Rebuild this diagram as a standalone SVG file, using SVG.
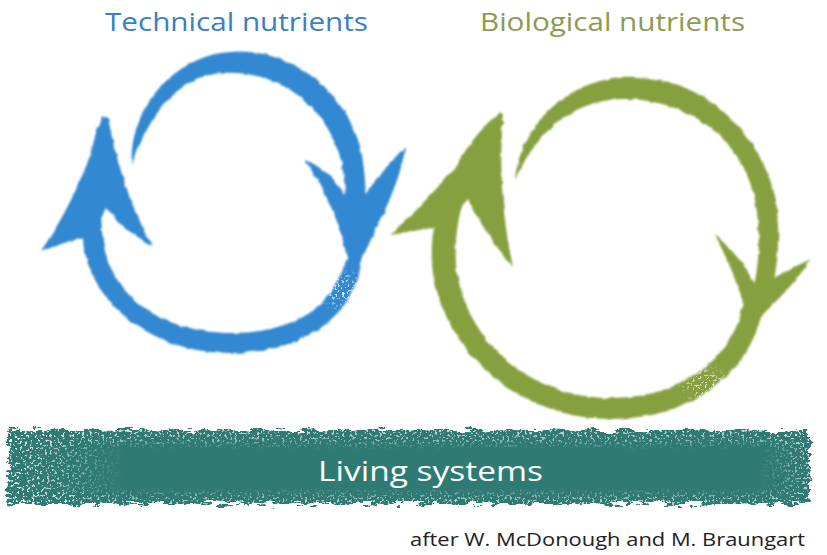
<svg xmlns="http://www.w3.org/2000/svg" width="827" height="555" viewBox="0 0 827 555">
<style>
.title{font-family:"Open Sans","Liberation Sans",sans-serif;font-size:26px}
.blue{fill:#3288d1}
.green{fill:#87a03f}
.band{fill:#2f7a73}
.label{font-family:"Open Sans","Liberation Sans",sans-serif;font-size:27px;fill:#ffffff}
.credit{font-family:"Open Sans","Liberation Sans",sans-serif;font-size:18px;fill:#222222}
</style>
<defs>
<filter id="rough" x="-10%" y="-10%" width="120%" height="120%" color-interpolation-filters="sRGB">
<feTurbulence type="fractalNoise" baseFrequency="0.12" numOctaves="2" seed="2" result="n"/>
<feDisplacementMap in="SourceGraphic" in2="n" scale="3.5" xChannelSelector="R" yChannelSelector="G" result="d"/>
<feGaussianBlur in="d" stdDeviation="0.8"/>
</filter>
<filter id="ragged" x="-3%" y="-20%" width="106%" height="140%" color-interpolation-filters="sRGB">
<feTurbulence type="fractalNoise" baseFrequency="0.06 0.2" numOctaves="3" seed="4" result="n"/>
<feDisplacementMap in="SourceGraphic" in2="n" scale="14" xChannelSelector="R" yChannelSelector="G" result="d"/>
<feGaussianBlur in="d" stdDeviation="0.7"/>
</filter>
<filter id="speck" x="0" y="0" width="100%" height="100%" color-interpolation-filters="sRGB">
<feTurbulence type="fractalNoise" baseFrequency="0.4" numOctaves="2" seed="7" result="n"/>
<feColorMatrix in="n" type="matrix" values="0 0 0 0 1  0 0 0 0 1  0 0 0 0 1  0 0 0 15 -8.8" result="s"/>
<feComposite in="s" in2="SourceGraphic" operator="in" result="c"/>
<feGaussianBlur in="c" stdDeviation="0.6"/>
</filter>
<linearGradient id="vfade" x1="0" y1="0" x2="0" y2="1">
<stop offset="0" stop-color="#fff" stop-opacity="0.9"/>
<stop offset="0.22" stop-color="#fff" stop-opacity="0.5"/>
<stop offset="0.32" stop-color="#fff" stop-opacity="0"/>
<stop offset="0.74" stop-color="#fff" stop-opacity="0"/>
<stop offset="0.84" stop-color="#fff" stop-opacity="0.5"/>
<stop offset="1" stop-color="#fff" stop-opacity="0.9"/>
</linearGradient>
<linearGradient id="hfade" x1="0" y1="0" x2="1" y2="0">
<stop offset="0" stop-color="#fff" stop-opacity="0.9"/>
<stop offset="0.08" stop-color="#fff" stop-opacity="0.5"/>
<stop offset="0.15" stop-color="#fff" stop-opacity="0"/>
<stop offset="0.92" stop-color="#fff" stop-opacity="0"/>
<stop offset="1" stop-color="#fff" stop-opacity="0.9"/>
</linearGradient>
<radialGradient id="rfade">
<stop offset="0" stop-color="#fff" stop-opacity="1"/>
<stop offset="1" stop-color="#fff" stop-opacity="0"/>
</radialGradient>
</defs>
<rect width="827" height="555" fill="#ffffff"/>

<g id="technical-title"><text class="title" x="105" y="31" fill="#3a80c2" textLength="263" lengthAdjust="spacingAndGlyphs">Technical nutrients</text></g>
<g id="biological-title"><text class="title" x="480" y="31" fill="#8b9b50" textLength="265" lengthAdjust="spacingAndGlyphs">Biological nutrients</text></g>

<g id="connectors">
<g id="technical-cycle" class="blue" filter="url(#rough)">
<path d="M132,166 C128,120 160,68 215,54 C280,40 340,85 358,140 C368,175 367,210 361,240 L343,238 C347,205 346,175 338,150 C320,100 275,70 222,73 C178,76 148,115 132,166 Z"/>
<path d="M305,160 C322,166 342,185 354,210 C370,188 386,166 405,147 C402,178 382,218 357,268 L349,268 C344,235 330,196 305,160 Z"/>
<path d="M361,260 C360,300 320,352 233,353 C150,354 88,300 83,240 C79,200 87,160 98,128 L109,134 C101,170 99,205 103,240 C110,295 160,333 232,333 C300,333 337,300 345,260 Z"/>
<path d="M102,116 C90,165 68,212 41,251 C60,244 76,239 92,236 L106,208 C119,224 134,236 153,246 C140,224 121,185 108,118 Z"/>
</g>
<g id="biological-cycle" class="green" filter="url(#rough)">
<path d="M515,180 C520,130 560,84 620,77 C700,72 760,130 776,200 C781,240 777,275 769,300 L751,298 C759,270 761,240 756,205 C745,140 690,98 620,99 C570,101 535,135 515,180 Z"/>
<path d="M715,235 C732,248 747,268 757,288 C773,278 791,268 811,259 C796,282 776,302 757,320 L747,318 C741,290 729,262 715,235 Z"/>
<path d="M763,305 C756,360 705,419 610,419 C515,419 439,345 432,265 C429,215 449,160 495,116 L506,123 C470,165 453,215 456,265 C463,335 525,398 610,398 C690,398 734,352 743,305 Z"/>
<path d="M500,112 C470,150 430,200 390,235 C405,232 420,230 445,226 L468,199 C480,225 495,245 513,267 C505,230 498,180 503,116 Z"/>
</g>
<g filter="url(#speck)">
<ellipse cx="342" cy="290" rx="28" ry="26" fill="url(#rfade)"/>
<ellipse cx="705" cy="385" rx="30" ry="24" fill="url(#rfade)"/>
</g>
</g>

<g id="living-systems">
<rect class="band" x="8" y="430" width="802" height="74" filter="url(#ragged)"/>
<g filter="url(#speck)">
<rect x="0" y="420" width="827" height="92" fill="url(#vfade)"/>
<rect x="0" y="420" width="827" height="92" fill="url(#hfade)"/>
</g>
<text class="label" x="318" y="481" textLength="225" lengthAdjust="spacingAndGlyphs">Living systems</text>
</g>

<g id="credit"><text class="credit" x="410" y="546" textLength="395" lengthAdjust="spacingAndGlyphs">after W. McDonough and M. Braungart</text></g>
</svg>
